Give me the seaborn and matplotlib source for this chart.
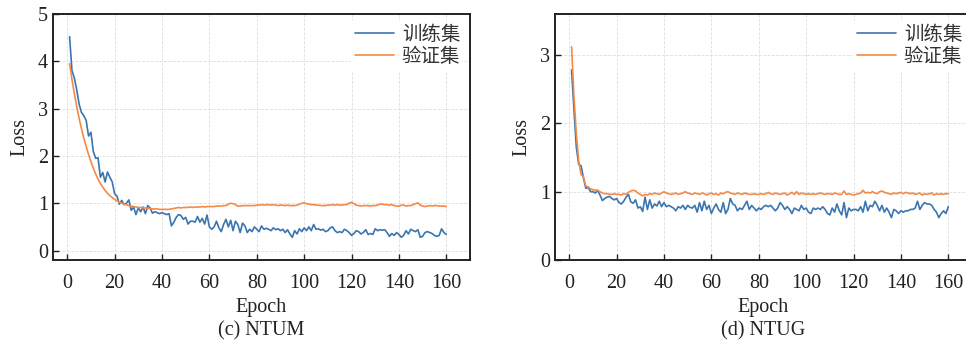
import numpy as np
import pandas as pd
import matplotlib
matplotlib.use("Agg")
import matplotlib.pyplot as plt
import seaborn as sns

epochs = list(range(1, 161))

ntum_train = [
    4.52, 3.80, 3.65, 3.40, 3.10, 2.92, 2.85, 2.75, 2.42, 2.50,
    2.10, 1.95, 1.96, 1.55, 1.65, 1.45, 1.66, 1.55, 1.45, 1.20,
    1.15, 0.98, 1.06, 0.97, 1.00, 1.07, 0.85, 0.92, 0.76, 0.90,
    0.82, 0.92, 0.78, 0.95, 0.90, 0.79, 0.82, 0.80, 0.78, 0.80,
    0.78, 0.76, 0.78, 0.52, 0.60, 0.70, 0.76, 0.74, 0.66, 0.70,
    0.56, 0.62, 0.62, 0.60, 0.72, 0.60, 0.68, 0.56, 0.75, 0.50,
    0.45, 0.50, 0.62, 0.48, 0.40, 0.55, 0.66, 0.50, 0.64, 0.42,
    0.62, 0.55, 0.38, 0.58, 0.52, 0.38, 0.45, 0.40, 0.50, 0.45,
    0.40, 0.52, 0.45, 0.47, 0.45, 0.42, 0.48, 0.44, 0.46, 0.42,
    0.45, 0.38, 0.44, 0.35, 0.28, 0.42, 0.35, 0.46, 0.40, 0.48,
    0.42, 0.50, 0.42, 0.55, 0.45, 0.46, 0.43, 0.45, 0.40, 0.42,
    0.48, 0.50, 0.42, 0.38, 0.40, 0.38, 0.45, 0.42, 0.38, 0.32,
    0.36, 0.42, 0.40, 0.35, 0.38, 0.44, 0.34, 0.36, 0.34, 0.46,
    0.42, 0.44, 0.43, 0.44, 0.38, 0.30, 0.36, 0.32, 0.38, 0.34,
    0.28, 0.32, 0.42, 0.35, 0.45, 0.42, 0.40, 0.44, 0.28, 0.30,
    0.38, 0.40, 0.38, 0.36, 0.32, 0.30, 0.32, 0.46, 0.38, 0.34,
]
ntum_val = [
    3.95, 3.62, 3.32, 3.05, 2.80, 2.58, 2.38, 2.20, 2.03, 1.88,
    1.74, 1.62, 1.51, 1.42, 1.34, 1.27, 1.21, 1.16, 1.12, 1.08,
    1.05, 1.02, 1.00, 0.98, 0.97, 0.95, 0.94, 0.93, 0.92, 0.91,
    0.91, 0.90, 0.90, 0.89, 0.89, 0.88, 0.88, 0.88, 0.87, 0.87,
    0.87, 0.87, 0.87, 0.88, 0.89, 0.90, 0.91, 0.90, 0.91, 0.91,
    0.91, 0.92, 0.91, 0.92, 0.92, 0.92, 0.93, 0.92, 0.93, 0.93,
    0.93, 0.93, 0.94, 0.94, 0.94, 0.95, 0.95, 0.98, 1.00, 0.99,
    0.97, 0.94, 0.94, 0.95, 0.95, 0.95, 0.95, 0.95, 0.95, 0.96,
    0.96, 0.97, 0.96, 0.97, 0.97, 0.96, 0.97, 0.96, 0.95, 0.96,
    0.96, 0.95, 0.96, 0.95, 0.95, 0.95, 0.96, 0.98, 1.00, 1.01,
    0.99, 0.98, 0.97, 0.97, 0.96, 0.96, 0.95, 0.95, 0.95, 0.96,
    0.96, 0.97, 0.96, 0.97, 0.96, 0.96, 0.97, 0.97, 1.00, 1.02,
    0.99, 0.96, 0.95, 0.94, 0.95, 0.95, 0.95, 0.94, 0.95, 0.95,
    0.96, 0.98, 0.98, 0.97, 0.97, 0.96, 0.97, 0.95, 0.94, 0.94,
    0.96, 0.96, 0.94, 0.95, 0.95, 0.97, 0.99, 1.01, 0.96, 0.94,
    0.93, 0.94, 0.95, 0.94, 0.95, 0.95, 0.94, 0.94, 0.94, 0.93,
]
ntug_train = [
    2.78, 2.20, 1.65, 1.40, 1.38, 1.20, 1.05, 1.06, 1.00, 1.00,
    0.98, 1.02, 0.95, 0.87, 0.90, 0.92, 0.93, 0.90, 0.88, 0.90,
    0.84, 0.82, 0.86, 0.92, 0.96, 0.85, 0.83, 0.88, 0.76, 0.78,
    0.71, 0.92, 0.74, 0.88, 0.76, 0.82, 0.79, 0.86, 0.78, 0.84,
    0.78, 0.80, 0.78, 0.76, 0.72, 0.78, 0.76, 0.80, 0.74, 0.80,
    0.77, 0.76, 0.80, 0.70, 0.84, 0.72, 0.86, 0.74, 0.80, 0.68,
    0.76, 0.82, 0.74, 0.70, 0.84, 0.68, 0.74, 0.90, 0.82, 0.80,
    0.72, 0.76, 0.74, 0.80, 0.86, 0.74, 0.80, 0.76, 0.72, 0.76,
    0.74, 0.78, 0.80, 0.78, 0.80, 0.76, 0.72, 0.76, 0.84, 0.80,
    0.74, 0.78, 0.74, 0.68, 0.76, 0.74, 0.72, 0.80, 0.74, 0.76,
    0.70, 0.68, 0.76, 0.74, 0.76, 0.74, 0.78, 0.74, 0.68, 0.66,
    0.76, 0.70, 0.82, 0.72, 0.66, 0.84, 0.62, 0.76, 0.72, 0.74,
    0.74, 0.72, 0.78, 0.70, 0.86, 0.72, 0.80, 0.78, 0.86, 0.80,
    0.72, 0.80, 0.70, 0.76, 0.70, 0.62, 0.74, 0.72, 0.68, 0.72,
    0.70, 0.72, 0.72, 0.74, 0.74, 0.76, 0.86, 0.74, 0.80, 0.84,
    0.82, 0.82, 0.80, 0.74, 0.70, 0.62, 0.68, 0.72, 0.68, 0.78,
]
ntug_val = [
    3.12, 2.40, 1.85, 1.45, 1.25, 1.22, 1.08, 1.07, 1.04, 1.03,
    1.02, 1.02, 1.00, 0.98, 0.97, 0.97, 0.96, 0.96, 0.97, 0.96,
    0.96, 0.95, 0.97, 0.96, 0.99, 1.01, 1.02, 1.01, 0.98, 0.96,
    0.94, 0.96, 0.95, 0.97, 0.96, 0.98, 0.97, 0.96, 0.98, 1.00,
    0.98, 0.97, 0.96, 0.97, 0.98, 0.96, 0.97, 0.98, 1.00, 0.98,
    0.97, 0.96, 0.98, 0.97, 0.96, 0.98, 0.97, 0.95, 0.97, 0.98,
    0.96, 0.97, 0.95, 0.98, 0.97, 0.99, 1.00, 0.98, 0.97, 0.96,
    0.98, 0.97, 0.96, 0.98, 0.97, 0.96, 0.96, 0.97, 0.96, 0.96,
    0.97, 0.96, 0.97, 0.99, 0.97, 0.96, 0.98, 0.97, 0.96, 0.97,
    0.98, 0.95, 0.97, 0.99, 0.96, 1.00, 0.96, 0.98, 0.97, 0.96,
    0.97, 0.96, 0.97, 0.96, 0.97, 0.98, 0.97, 0.96, 0.97, 0.97,
    0.96, 0.98, 0.97, 0.96, 0.96, 1.01, 0.96, 0.97, 0.96, 0.95,
    0.96, 0.97, 0.98, 1.02, 0.98, 0.99, 0.98, 1.00, 0.98, 0.97,
    1.00, 1.01, 0.99, 0.98, 0.97, 0.96, 0.98, 0.97, 0.98, 0.99,
    0.97, 0.99, 0.98, 0.97, 0.98, 0.96, 0.97, 0.98, 0.95, 0.97,
    0.96, 0.97, 0.98, 0.95, 0.97, 0.96, 0.97, 0.96, 0.97, 0.97,
]

series_names = ["训练集", "验证集"]
captions = ["(c) NTUM", "(d) NTUG"]
xticks = [0, 20, 40, 60, 80, 100, 120, 140, 160]
yticks_list = [[0, 1, 2, 3, 4, 5], [0, 1, 2, 3]]
ylims = [(-0.2, 5.0), (0.0, 3.6)]

sns.set_style("ticks")
plt.rcParams["font.family"] = ["Liberation Serif", "Noto Sans CJK SC", "DejaVu Sans"]
plt.rcParams["axes.unicode_minus"] = False

colors = {"训练集": "#3b75af", "验证集": "#f58a48"}

fig = plt.figure(figsize=(9.66, 3.47), dpi=100)
W = 417 / 966
B = 1 - 260 / 347
H = (260 - 14) / 347
axes = [fig.add_axes([53 / 966, B, W, H]), fig.add_axes([555 / 966, B, W, H])]

datasets = [(ntum_train, ntum_val), (ntug_train, ntug_val)]
for i, (ax, (tr, va)) in enumerate(zip(axes, datasets)):
    df = pd.DataFrame({
        "Epoch": epochs * 2,
        "Loss": tr + va,
        "set": [series_names[0]] * len(tr) + [series_names[1]] * len(va),
    })
    sns.lineplot(data=df, x="Epoch", y="Loss", hue="set", palette=colors,
                 linewidth=1.2, ax=ax, legend=True)
    ax.set_xlim(-6, 170)
    ax.set_ylim(*ylims[i])
    ax.set_xticks(xticks)
    ax.set_yticks(yticks_list[i])
    ax.tick_params(direction="in", length=4, width=1.0, labelsize=14.5, colors="#222222")
    ax.tick_params(axis="x", pad=10)
    ax.grid(True, linestyle="--", color="#dedede", linewidth=0.6)
    for s in ax.spines.values():
        s.set_linewidth(1.4)
        s.set_color("#222222")
    ax.set_xlabel("Epoch", fontsize=14.5, labelpad=4, color="#222222")
    ax.set_ylabel("Loss", fontsize=14.5, labelpad=6, color="#222222")
    leg = ax.legend(loc="upper right", frameon=True, framealpha=0.9,
                    edgecolor="white", handlelength=2.0, handletextpad=0.4,
                    borderpad=0.2, labelspacing=0.05, borderaxespad=0.3,
                    prop={"family": ["Noto Sans CJK SC"], "size": 14})
    for t in leg.get_texts():
        t.set_color("#333333")
    ax.text(0.5, -0.29, captions[i], transform=ax.transAxes, ha="center",
            va="center", fontsize=14.5, color="#222222")

fig.savefig("out.png", dpi=100)
